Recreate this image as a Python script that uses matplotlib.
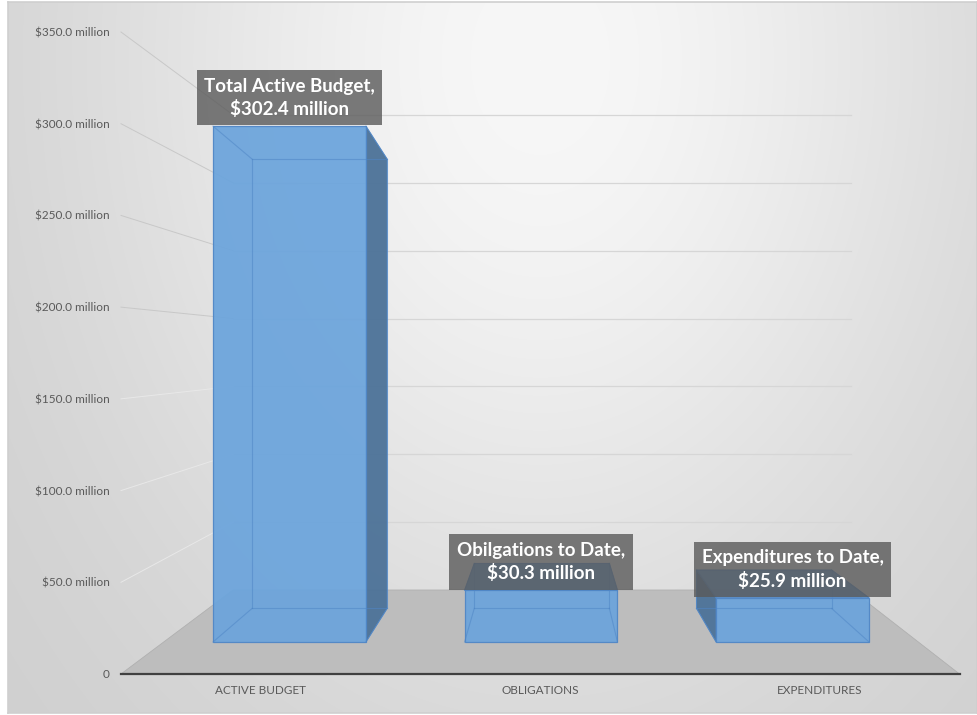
import numpy as np
import matplotlib
matplotlib.use("Agg")
import matplotlib.pyplot as plt
from matplotlib.patches import Polygon
from matplotlib.lines import Line2D
from matplotlib.transforms import IdentityTransform

# ---------------- data ----------------
categories = ["ACTIVE BUDGET", "OBLIGATIONS", "EXPENDITURES"]
values = [302.4, 30.3, 25.9]
label_titles = ["Total Active Budget", "Obilgations to Date", "Expenditures to Date"]
yticks = [0, 50, 100, 150, 200, 250, 300, 350]
ytick_labels = ["0", "$50.0 million", "$100.0 million", "$150.0 million",
                "$200.0 million", "$250.0 million", "$300.0 million", "$350.0 million"]

FONT = ["Lato", "DejaVu Sans"]
plt.rcParams["font.family"] = FONT

W, H = 977, 715
fig = plt.figure(figsize=(W / 100, H / 100), dpi=100)
fig.patch.set_facecolor("white")

# ---------------- background gradient ----------------
bg = fig.add_axes([8 / W, 2 / H, (W - 8) / W, (H - 4) / H], zorder=0)
gx = np.arange(8, W)
gy = np.arange(2, H - 2)
XX, YY = np.meshgrid(gx, gy)
r2 = ((XX - 540) / 500.0) ** 2 + ((YY - 60) / 680.0) ** 2
img = 247 - 42 * (1 - np.exp(-r2 / 0.8))
rgb = np.clip(np.dstack([img, img, img]) / 255.0, 0, 1)
bg.imshow(rgb, aspect="auto", interpolation="bilinear")
bg.set_xticks([]); bg.set_yticks([])
for sp in bg.spines.values():
    sp.set_color("#cfcfcf"); sp.set_linewidth(1.2)

# ---------------- front (label) plane axes ----------------
ax = fig.add_axes([121 / W, (H - 674) / H, (959.5 - 121) / W, (674 - 32) / H], zorder=1)
ax.set_facecolor("none")
ax.set_xlim(-0.5, 2.5)
ax.set_ylim(0, 350)
ax.set_autoscale_on(False)
ax.set_yticks(yticks, ytick_labels)
ax.set_xticks(range(len(categories)), categories)
ax.tick_params(axis="y", length=0, pad=8, labelsize=8.5, labelcolor="#595959")
ax.tick_params(axis="x", length=0, pad=8, labelsize=8.5, labelcolor="#595959")
for k in ["top", "right", "left"]:
    ax.spines[k].set_visible(False)
ax.spines["bottom"].set_color("#404040")
ax.spines["bottom"].set_linewidth(1.6)
ax.spines["bottom"].set_zorder(5)

# perspective helpers (display pixels)
VPX, VPY = 548.0, H - 354.0
S_BF, T_BF = 0.90, 0.93     # bar front plane
S_BB, T_BB = 0.795, 0.81    # bar back plane
S_W, T_W = 0.7375, 0.74     # back wall
HW = 0.304                  # half bar width (category units)


def proj(xc, v, s, t):
    (x0, y0), (_, y1) = ax.transData.transform([(xc, 0), (xc, v)])
    px = VPX + (x0 - VPX) * s
    yf = VPY + (y0 - VPY) * s
    return (px, yf + (y1 - y0) * t)


ID = IdentityTransform()

# floor
floor = [proj(-0.5, 0, 1, 1), proj(2.5, 0, 1, 1), proj(2.5, 0, S_W, T_W), proj(-0.5, 0, S_W, T_W)]
ax.add_patch(Polygon(floor, closed=True, facecolor="#bdbdbd", edgecolor="#b0b0b0",
                     lw=0.6, transform=ID, clip_on=False, zorder=1))

# back wall gridlines & left wall diagonals
for v in yticks[1:]:
    a = proj(-0.5, v, S_W, T_W)
    b = proj(2.5, v, S_W, T_W)
    ax.add_line(Line2D([a[0], b[0]], [a[1], b[1]], color="#d6d6d6", lw=0.9,
                       transform=ID, clip_on=False, zorder=0.5))
    f = proj(-0.5, v, 1, 1)
    shade = "#c8c8c8" if v > 150 else "#e8e8e8"
    ax.add_line(Line2D([f[0], a[0]], [f[1], a[1]], color=shade, lw=0.7,
                       transform=ID, clip_on=False, zorder=0.5))

# ---------------- bar front plane axes ----------------
axb = fig.add_axes([0, 0, 1, 1], zorder=2)
axb.set_facecolor("none")
axb.axis("off")
(ax0, ay0), (ax1, ay1) = ax.transData.transform([(0, 0), (1, 1)])
bx = ax1 - ax0
dy = ay1 - ay0
off_x = VPX * (1 - S_BF) + S_BF * ax0
yf0 = VPY + (ay0 - VPY) * S_BF
axb.set_xlim((0 - off_x) / (S_BF * bx), (W - off_x) / (S_BF * bx))
axb.set_ylim((0 - yf0) / (dy * T_BF), (H - yf0) / (dy * T_BF))
axb.set_autoscale_on(False)

FRONT = "#6ba4dc"
EDGE = "#4f86c6"
SIDE = "#4c7298"
TOP = "#5b93cc"
LBL_SIZE = 13.5
LBL_PAD = 0.4

for i, v in enumerate(values):
    FL0 = proj(i - HW, 0, S_BF, T_BF); FR0 = proj(i + HW, 0, S_BF, T_BF)
    FLt = proj(i - HW, v, S_BF, T_BF); FRt = proj(i + HW, v, S_BF, T_BF)
    BL0 = proj(i - HW, 0, S_BB, T_BB); BR0 = proj(i + HW, 0, S_BB, T_BB)
    BLt = proj(i - HW, v, S_BB, T_BB); BRt = proj(i + HW, v, S_BB, T_BB)
    if FR0[0] < VPX:
        axb.add_patch(Polygon([FR0, FRt, BRt, BR0], facecolor=SIDE, edgecolor=EDGE, lw=0.6,
                              alpha=0.95, transform=ID, zorder=2))
    if FL0[0] > VPX:
        axb.add_patch(Polygon([FL0, FLt, BLt, BL0], facecolor=SIDE, edgecolor=EDGE, lw=0.6,
                              alpha=0.95, transform=ID, zorder=2))
    if FLt[1] < VPY:
        axb.add_patch(Polygon([FLt, FRt, BRt, BLt], facecolor=TOP, edgecolor=EDGE, lw=0.6,
                              alpha=0.95, transform=ID, zorder=2))
    axb.bar(i, v, width=2 * HW, color=FRONT, alpha=0.93, edgecolor=EDGE, linewidth=0.9, zorder=3)
    # inner (back) edges seen through the translucent box
    for p, q in [(BL0, BR0), (BR0, BRt), (BRt, BLt), (BLt, BL0),
                 (FL0, BL0), (FR0, BR0), (FLt, BLt), (FRt, BRt)]:
        axb.add_line(Line2D([p[0], q[0]], [p[1], q[1]], color=EDGE, lw=0.8, alpha=0.55,
                            transform=ID, zorder=4))
    axb.annotate(f"{label_titles[i]},\n${v:.1f} million", xy=(i, v),
                 xytext=(0, LBL_SIZE * LBL_PAD + 0.5),
                 textcoords="offset points", ha="center", va="bottom",
                 color="white", fontsize=LBL_SIZE, fontweight="bold", family=FONT,
                 linespacing=1.35, zorder=6,
                 bbox=dict(boxstyle=f"square,pad={LBL_PAD}", facecolor="#5a5a5a",
                           edgecolor="none", alpha=0.8))

fig.savefig("out.png", dpi=100)
